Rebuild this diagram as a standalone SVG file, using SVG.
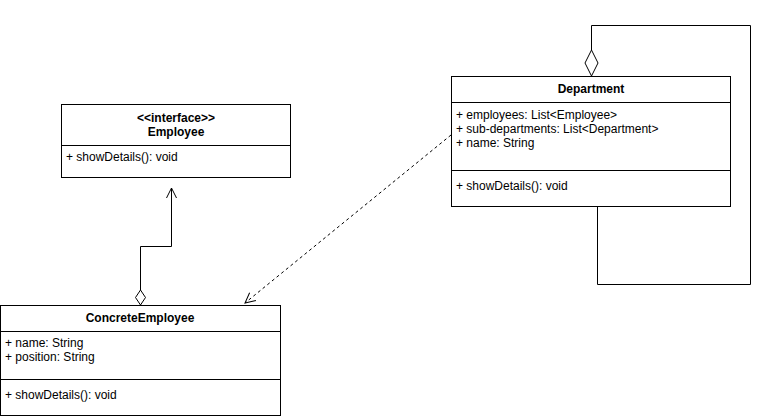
<svg xmlns="http://www.w3.org/2000/svg" width="777" height="419" viewBox="0 0 777 419">
<defs>
<style>
.box{fill:#fff;stroke:#000;stroke-width:1}
.t{font-family:"Liberation Sans",Arial,sans-serif;font-size:12px;fill:#000}
.b{font-weight:bold;text-anchor:middle}
.ln{fill:none;stroke:#000;stroke-width:1}
.dash{fill:none;stroke:#000;stroke-width:1;stroke-dasharray:3 3}
</style>
<marker id="open" viewBox="0 0 12 12" refX="11" refY="6" markerWidth="12" markerHeight="12" markerUnits="userSpaceOnUse" orient="auto">
<path d="M1,1 L11,6 L1,11" fill="none" stroke="#000" stroke-width="1"/>
</marker>
</defs>
<rect width="777" height="419" fill="#fff"/>
<g id="connectors">
<path class="ln" d="M140.5,290 L140.5,246.5 L171.5,246.5 L171.5,188" marker-end="url(#open)"/>
<path class="ln" d="M135.5,297.5 L140.5,290 L145.5,297.5 L140.5,305 Z"/>
<path class="dash" d="M451,135 L245,303" marker-end="url(#open)"/>
<path class="ln" d="M591.5,50 L591.5,25.5 L750.5,25.5 L750.5,284.5 L597.5,284.5 L597.5,206"/>
<path class="ln" d="M591.5,50 L598,63 L591.5,76 L585,63 Z"/>
</g>
<g id="employee">
<rect class="box" x="61.5" y="104.5" width="229" height="73"/>
<line class="ln" x1="61.5" y1="145.5" x2="290.5" y2="145.5"/>
<text class="t b" x="176" y="122">&lt;&lt;interface&gt;&gt;</text>
<text class="t b" x="176" y="136">Employee</text>
<text class="t" x="66" y="161">+ showDetails(): void</text>
</g>
<g id="concreteEmployee">
<rect class="box" x="0.5" y="305.5" width="280" height="110"/>
<line class="ln" x1="0.5" y1="331.5" x2="280.5" y2="331.5"/>
<line class="ln" x1="0.5" y1="379.5" x2="280.5" y2="379.5"/>
<text class="t b" x="140" y="322">ConcreteEmployee</text>
<text class="t" x="5" y="347">+ name: String</text>
<text class="t" x="5" y="361">+ position: String</text>
<text class="t" x="5" y="399">+ showDetails(): void</text>
</g>
<g id="department">
<rect class="box" x="451.5" y="76.5" width="279" height="130"/>
<line class="ln" x1="451.5" y1="102.5" x2="730.5" y2="102.5"/>
<line class="ln" x1="451.5" y1="170.5" x2="730.5" y2="170.5"/>
<text class="t b" x="591" y="93">Department</text>
<text class="t" x="456" y="119">+ employees: List&lt;Employee&gt;</text>
<text class="t" x="456" y="133">+ sub-departments: List&lt;Department&gt;</text>
<text class="t" x="456" y="147">+ name: String</text>
<text class="t" x="456" y="190">+ showDetails(): void</text>
</g>
</svg>
